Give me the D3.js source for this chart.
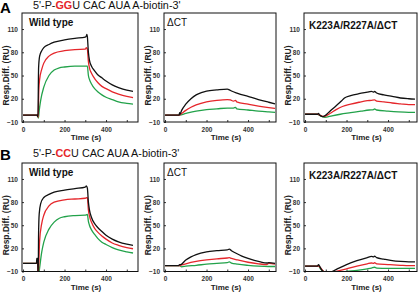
<!DOCTYPE html>
<html><head><meta charset="utf-8">
<script src="https://cdn.jsdelivr.net/npm/d3@7"></script>
<style>body{margin:0;background:#fff}svg{display:block;font-family:"Liberation Sans",Arial,sans-serif}</style>
</head><body><svg id="c" width="420" height="293"></svg>
<script>
// ---- data ----
const yTicks = [-10, 20, 50, 80, 110];
const xTicks = [0, 200, 400];
const xMinorTicks = [0, 100, 200, 300, 400, 500];
const rowLetters = ["A", "B"];
const rowSeqPre = ["5'-P-", "5'-P-"];
const rowSeqMut = ["GG", "CC"];
const rowSeqPost = ["U CAC AUA A-biotin-3'", "U CAC AUA A-biotin-3'"];
const panelTitles = ["Wild type", "\u0394CT", "K223A/R227A/\u0394CT"];
const seriesColors = ["#111111", "#e5262b", "#22a24a"];

const A_wt_black = [[0,-1],[68,-1],[70,-3],[72,0],[75,60],[80,75],[90,82],[100,86],[125,90],[150,93],[200,96],[250,98],[300,99.5],[305,101],[308,103],[310,100],[315,80],[320,70],[330,62],[345,56],[360,51],[380,47],[400,43],[430,38],[460,34.5],[500,31],[530,29.5]];
const A_wt_red = [[0,-1],[70,-1],[73,-4],[76,30],[80,45],[90,58],[100,66],[125,75],[150,79],[200,82],[250,83.5],[300,84],[305,86],[310,84],[315,68],[320,60],[330,53],[345,46],[360,41],[380,36],[400,33],[430,29],[460,26],[500,23],[530,21.5]];
const A_wt_green = [[0,-1],[70,-1],[74,-5],[78,5],[85,18],[100,35],[125,50],[150,57],[175,60],[200,61],[250,62],[300,62],[310,62],[315,50],[320,45],[330,39],[345,33],[360,29],[380,25],[400,22],[430,19],[460,16],[500,14],[530,13]];

const A_ct_black = [[0,-1],[68,-1],[70,2],[72,0],[80,5],[100,13],[125,20],[150,25],[175,28],[200,30],[250,31.5],[300,32.5],[310,31.5],[320,30],[350,27],[400,23],[450,19],[500,15.5],[530,13.5]];
const A_ct_red = [[0,-1],[70,-1],[80,1],[100,5],[125,9],[150,12],[200,16],[250,18],[300,19],[315,18.5],[330,17],[340,18],[345,16],[400,13],[450,10.5],[500,8.5],[530,7.5]];
const A_ct_green = [[0,-1],[70,-1],[100,1],[150,4],[200,6],[250,7],[300,8],[330,8],[340,9],[345,7],[400,5.5],[450,4],[500,3],[530,2.5]];

const A_mut_black = [[0,0],[60,0],[65,1],[70,-1],[85,-3],[95,-2],[120,4],[150,11],[175,17],[190,21],[220,24],[260,26.5],[300,28.5],[320,29.5],[330,28.5],[335,29.5],[345,27.5],[380,25],[420,23],[460,21],[500,20],[530,19.5]];
const A_mut_red = [[0,0],[60,0],[70,-1],[90,-3],[120,1],[150,6],[180,10],[220,13],[260,15.5],[300,17.5],[320,18],[335,18.5],[345,17],[380,16],[420,14.5],[460,13.5],[500,12.5],[530,12.5]];
const A_mut_green = [[0,0],[60,0],[75,-2],[95,-4],[130,-2],[170,0],[220,2],[270,4],[310,5.5],[330,6],[335,7],[345,5.5],[400,4],[450,3],[500,2.5],[530,2.5]];

const B_wt_black = [[0,0.5],[65,0.5],[66,7],[70,7],[71,0],[73,-15],[75,40],[78,65],[85,78],[100,86],[125,90],[150,93],[200,95.5],[250,97.5],[300,99.5],[305,101],[310,98],[315,80],[320,70],[330,60],[345,52],[360,47],[380,42],[400,37],[430,32],[460,28.5],[500,25.5],[530,24]];
const B_wt_red = [[0,0.5],[70,0.5],[73,-15],[76,0],[80,30],[90,52],[100,63],[125,75],[150,80],[200,83],[250,84],[300,85],[310,86],[315,70],[320,62],[330,54],[345,46],[360,41],[380,36],[400,32],[430,27],[460,24],[500,21],[530,19.5]];
const B_wt_green = [[0,0.5],[70,0.5],[75,-15],[80,-5],[90,15],[100,28],[125,45],[150,54],[175,59],[200,61],[250,62.5],[300,63],[310,64],[315,55],[320,50],[330,44],[345,38],[360,33],[380,28],[400,25],[430,21],[460,18],[500,15.5],[530,14]];

const B_ct_black = [[0,-2.5],[65,-2.5],[70,-1],[75,-1],[100,5],[125,9],[150,12],[200,15.5],[250,17],[300,18],[310,19],[320,17],[340,14],[370,10],[400,7],[430,4.5],[460,2.5],[490,1],[500,1.5],[530,0.5]];
const B_ct_red = [[0,-2.5],[70,-2.5],[80,-1.5],[100,0],[150,3],[200,5],[250,6.5],[300,7.5],[310,8],[320,7],[350,5],[400,2],[450,0],[490,-1],[500,0.5],[530,-0.5]];
const B_ct_green = [[0,-2.5],[70,-2.5],[80,-4],[100,-3],[150,-2],[200,-0.5],[250,0.5],[300,1.5],[310,2.5],[320,1],[350,-0.5],[400,-2],[450,-3],[500,-3.5],[530,-3.5]];

const B_mut_black = [[0,-3],[60,-3],[65,-1],[70,-3],[80,-8],[95,-11],[110,-11.5],[130,-10],[160,-6],[200,-1],[250,4],[300,8],[320,9.5],[330,9],[335,10],[345,8],[380,6],[420,4],[460,3],[500,2.5],[530,2.5]];
const B_mut_red = [[0,-3],[65,-3],[80,-7],[95,-11],[120,-12],[150,-10],[200,-6.5],[250,-3],[300,0],[320,1],[330,0.5],[335,1.5],[345,0],[400,-1],[460,-2],[500,-2.5],[530,-2.5]];
const B_mut_green = [[0,-3],[65,-3],[75,-7],[90,-10],[120,-12],[160,-11.5],[200,-10],[250,-8.5],[300,-6.5],[320,-5.5],[335,-4.5],[345,-5.5],[400,-6],[460,-6],[500,-6],[530,-6]];

const panelSeries = [
  [[A_wt_black, A_wt_red, A_wt_green],[A_ct_black, A_ct_red, A_ct_green],[A_mut_black, A_mut_red, A_mut_green]],
  [[B_wt_black, B_wt_red, B_wt_green],[B_ct_black, B_ct_red, B_ct_green],[B_mut_black, B_mut_red, B_mut_green]]
];

// ---- layout ----
const rows = [{top:13, bottom:122, letterY:13, seqY:9}, {top:163, bottom:271.5, letterY:160, seqY:157}];
const cols = [{left:22, right:138}, {left:164, right:276}, {left:304, right:417}];
const pxPerSec = 0.2075;
const yTop = 130.7;

const svg = d3.select("#c");
let clipId = 0;

rows.forEach((r, ri) => {
  svg.append("text").attr("x", 0).attr("y", r.letterY).attr("font-size", 15).attr("font-weight", "bold").text(rowLetters[ri]);
  const t = svg.append("text").attr("x", 33).attr("y", r.seqY).attr("font-size", 10.8).attr("fill", "#111");
  t.append("tspan").text(rowSeqPre[ri]);
  t.append("tspan").attr("fill", "#e5262b").attr("font-weight", "bold").text(rowSeqMut[ri]);
  t.append("tspan").text(rowSeqPost[ri]);

  cols.forEach((c, ci) => {
    const w = c.right - c.left;
    const x = d3.scaleLinear().domain([-5, -5 + w / pxPerSec]).range([c.left, c.right]);
    const y = d3.scaleLinear().domain([-10, yTop]).range([r.bottom, r.top]);
    const g = svg.append("g");
    const id = "clip" + (clipId++);
    g.append("clipPath").attr("id", id).append("rect")
      .attr("x", c.left).attr("y", r.top).attr("width", w).attr("height", r.bottom - r.top);

    // y axis
    const ya = g.append("g").attr("transform", `translate(${c.left},0)`)
      .call(d3.axisLeft(y).tickValues(yTicks).tickSize(-2).tickPadding(4));
    ya.select(".domain").remove();
    ya.selectAll("text").attr("font-size", 6.5).attr("font-weight", "bold").attr("fill", "#333").attr("font-family", "Liberation Sans, Arial, sans-serif");
    ya.selectAll("line").attr("stroke", "#333");

    // x axis
    const xa = g.append("g").attr("transform", `translate(0,${r.bottom})`)
      .call(d3.axisBottom(x).tickValues(xMinorTicks).tickSize(-2).tickFormat(d => xTicks.includes(d) ? d : "").tickPadding(5));
    xa.select(".domain").remove();
    xa.selectAll("text").attr("font-size", 6.5).attr("font-weight", "bold").attr("fill", "#333").attr("font-family", "Liberation Sans, Arial, sans-serif");
    xa.selectAll("line").attr("stroke", "#333");

    // lines
    const line = d3.line().x(d => x(d[0])).y(d => y(d[1])).curve(d3.curveMonotoneX);
    const lg = g.append("g").attr("clip-path", `url(#${id})`);
    panelSeries[ri][ci].slice().reverse().forEach((s, si) => {
      lg.append("path").attr("d", line(s)).attr("fill", "none")
        .attr("stroke", seriesColors[2 - si]).attr("stroke-width", 1.3);
    });

    // frame
    g.append("rect").attr("x", c.left).attr("y", r.top).attr("width", w).attr("height", r.bottom - r.top)
      .attr("fill", "none").attr("stroke", "#111").attr("stroke-width", 1);

    // panel title
    g.append("text").attr("x", c.left + (ci === 2 ? 5 : ci === 1 ? 3 : 7)).attr("y", r.top + (ci === 2 ? 16 : 13))
      .attr("font-size", 10).attr("font-weight", ci === 1 ? "normal" : "bold").attr("fill", "#111")
      .text(panelTitles[ci]);

    // axis titles
    g.append("text").attr("x", (c.left + c.right) / 2 + 6).attr("y", r.bottom + 18)
      .attr("text-anchor", "middle").attr("font-size", 8).attr("font-weight", "bold").attr("fill", "#222").text("Time (s)");
    g.append("text").attr("transform", `translate(${c.left - 13},${(r.top + r.bottom) / 2 + 8}) rotate(-90)`)
      .attr("text-anchor", "middle").attr("font-size", 8.5).attr("font-weight", "bold").attr("fill", "#222").text("Resp.Diff. (RU)");
  });
});
</script></body></html>
